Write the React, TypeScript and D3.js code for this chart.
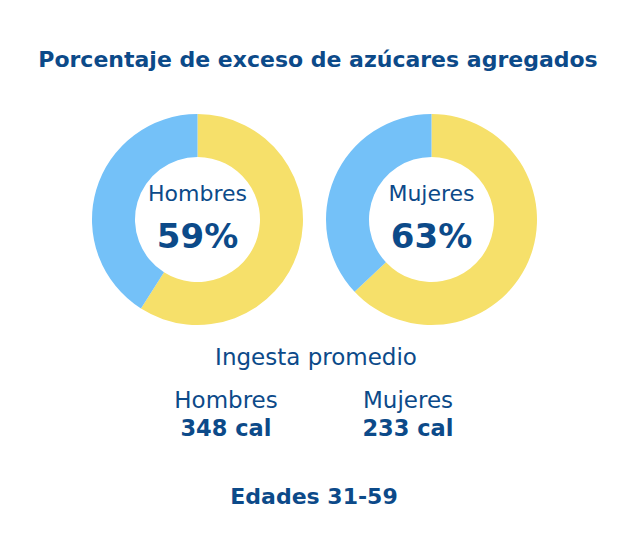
import React from "react";
import * as d3 from "d3";

const groups = ["Hombres", "Mujeres"];
const excessPct = [59, 63];
const intakeLabels = ["348 cal", "233 cal"];
const title = "Porcentaje de exceso de azúcares agregados";
const subtitle = "Ingesta promedio";
const footer = "Edades 31-59";

const W = 629;
const H = 556;
const DARK = "#0c4a89";
const YELLOW = "#f6e06a";
const BLUE = "#74c1f8";
const FONT = "'DejaVu Sans', sans-serif";

export default function App() {
  const centers = d3.scalePoint<string>().domain(groups).range([197.5, 431.5]);
  const outerR = 105.5;
  const innerR = 62.5;
  const pie = d3.pie<number>().sort(null).value((d) => d);
  const arc = d3.arc<d3.PieArcDatum<number>>().innerRadius(innerR).outerRadius(outerR);
  const intakeX = d3.scalePoint<string>().domain(groups).range([226, 408]);

  return (
    <svg
      width={W}
      height={H}
      style={{ position: "absolute", left: 0, top: 0, background: "#fff" }}
      fontFamily={FONT}
    >
      <text x={318} y={66.5} textAnchor="middle" fontSize={22} fontWeight={700} fill={DARK}>
        {title}
      </text>
      {groups.map((g, i) => {
        const cx = centers(g)!;
        const arcs = pie([excessPct[i], 100 - excessPct[i]]);
        return (
          <g key={g} transform={`translate(${cx},219.5)`}>
            {arcs.map((a, j) => (
              <path key={j} d={arc(a)!} fill={j === 0 ? YELLOW : BLUE} />
            ))}
            <text y={-19} textAnchor="middle" fontSize={22} fontWeight={400} fill={DARK}>
              {g}
            </text>
            <text y={28} textAnchor="middle" fontSize={34} fontWeight={700} fill={DARK}>
              {excessPct[i]}%
            </text>
          </g>
        );
      })}
      <text x={316} y={365} textAnchor="middle" fontSize={23} fontWeight={400} fill={DARK}>
        {subtitle}
      </text>
      {groups.map((g, i) => (
        <g key={g + "-intake"}>
          <text x={intakeX(g)} y={408} textAnchor="middle" fontSize={23} fontWeight={400} fill={DARK}>
            {g}
          </text>
          <text x={intakeX(g)} y={436} textAnchor="middle" fontSize={22.5} fontWeight={700} fill={DARK}>
            {intakeLabels[i]}
          </text>
        </g>
      ))}
      <text x={314} y={504} textAnchor="middle" fontSize={22} fontWeight={700} fill={DARK}>
        {footer}
      </text>
    </svg>
  );
}
